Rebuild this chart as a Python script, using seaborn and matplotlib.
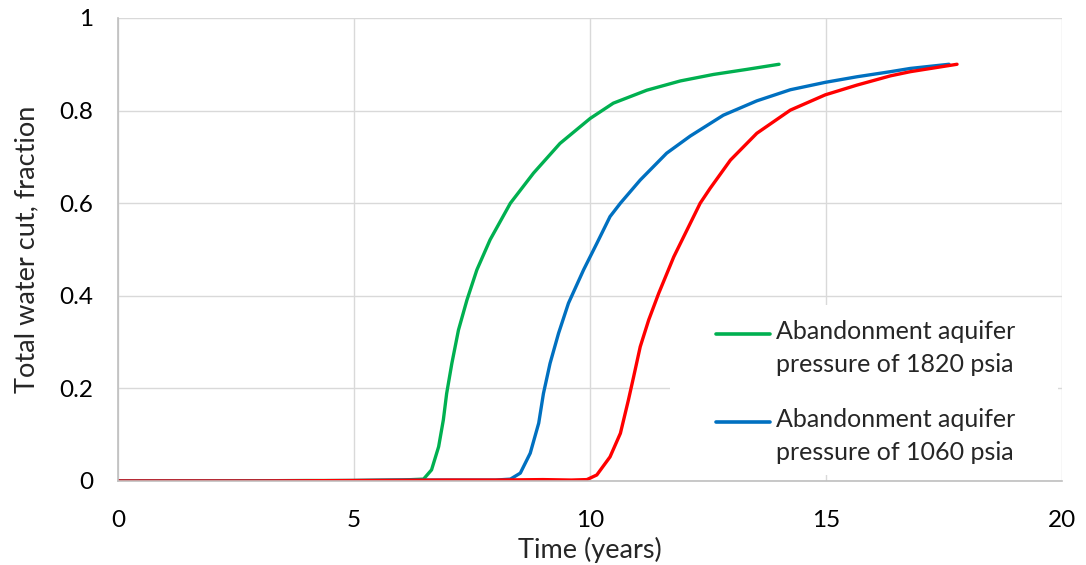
import matplotlib
matplotlib.use("Agg")
import matplotlib.pyplot as plt
from matplotlib.patches import Rectangle
from matplotlib.legend_handler import HandlerLine2D
import numpy as np
import seaborn as sns

# Data
t_green = [0, 2, 4, 5, 6, 6.47, 6.64, 6.79, 6.89, 6.96, 7.07, 7.21, 7.39, 7.60, 7.88, 8.31,
           8.80, 9.36, 10.0, 10.49, 11.2, 11.91, 12.61, 13.32, 14.0]
wc_green = [0, 0, 0.001, 0.001, 0.002, 0.004, 0.024, 0.074, 0.132, 0.189, 0.254, 0.326, 0.391, 0.456, 0.521, 0.60,
            0.665, 0.729, 0.783, 0.816, 0.844, 0.864, 0.878, 0.889, 0.90]

t_blue = [0, 3, 5, 6, 7, 8.0, 8.31, 8.52, 8.73, 8.91, 9.01, 9.15, 9.33, 9.54, 9.86, 10.14, 10.42, 10.64,
          11.06, 11.62, 12.12, 12.82, 13.53, 14.24, 14.98, 15.65, 16.36, 16.78, 17.6]
wc_blue = [0, 0, 0.001, 0.002, 0.002, 0.002, 0.004, 0.017, 0.06, 0.125, 0.189, 0.254, 0.319, 0.384, 0.456, 0.513, 0.571, 0.60,
           0.65, 0.708, 0.745, 0.79, 0.821, 0.845, 0.861, 0.873, 0.884, 0.891, 0.90]

t_red = [0, 3, 5, 7, 8, 9, 9.6, 9.93, 10.14, 10.42, 10.64, 10.81, 10.92, 11.06, 11.24, 11.45, 11.77, 12.05,
         12.33, 12.54, 12.97, 13.53, 14.24, 14.98, 15.65, 16.36, 16.78, 17.77]
wc_red = [0, 0, 0.001, 0.002, 0.002, 0.003, 0.002, 0.003, 0.013, 0.052, 0.103, 0.175, 0.225, 0.29, 0.348, 0.405, 0.484, 0.542,
          0.60, 0.632, 0.693, 0.751, 0.801, 0.834, 0.855, 0.875, 0.884, 0.90]

label_green = "Abandonment aquifer\npressure of 1820 psia"
label_blue = "Abandonment aquifer\npressure of 1060 psia"

x_ticks = [0, 5, 10, 15, 20]
y_ticks = [0, 0.2, 0.4, 0.6, 0.8, 1.0]
y_ticklabels = ["0", "0.2", "0.4", "0.6", "0.8", "1"]

sns.set_style("white")
plt.rcParams["font.family"] = ["Lato", "DejaVu Sans"]

fig = plt.figure(figsize=(10.86, 5.65), dpi=100)
ax = fig.add_axes([0.1087, 0.1487, 0.8695, 0.8195])

lw = 2.4
sns.lineplot(x=t_green, y=wc_green, ax=ax, color="#00b050", linewidth=lw, sort=False, label=label_green)
sns.lineplot(x=t_blue, y=wc_blue, ax=ax, color="#0070c0", linewidth=lw, sort=False, label=label_blue)
sns.lineplot(x=t_red, y=wc_red, ax=ax, color="#ff0000", linewidth=lw, sort=False, label="_nolegend_")
for ln in ax.get_lines():
    ln.set_solid_capstyle("round")
    ln.set_solid_joinstyle("round")

ax.set_xlim(0, 20)
ax.set_ylim(0, 1)
ax.set_xticks(x_ticks)
ax.set_xticklabels([str(v) for v in x_ticks])
ax.set_yticks(y_ticks)
ax.set_yticklabels(y_ticklabels)
ax.tick_params(axis="both", length=0, labelsize=17.5, colors="#000000")
ax.tick_params(axis="x", pad=21)
ax.tick_params(axis="y", pad=18)
ax.grid(True, color="#d9d9d9", linewidth=1.0)
ax.set_axisbelow(True)
for s in ["top", "right"]:
    ax.spines[s].set_visible(False)
for s in ["left", "bottom"]:
    ax.spines[s].set_color("#bfbfbf")
    ax.spines[s].set_linewidth(1.2)

ax.set_xlabel("Time (years)", fontsize=19.5, labelpad=4)
ax.set_ylabel("Total water cut, fraction", fontsize=19.5, labelpad=14)

# white legend background block (covers gridlines)
W, H = 1086.0, 565.0
bg = Rectangle((670 / W, (H - 475) / H), (1058 - 670) / W, (475 - 305) / H,
               transform=fig.transFigure, facecolor="white", edgecolor="none", zorder=1.5)
ax.add_patch(bg)


class UpHandler(HandlerLine2D):
    def create_artists(self, legend, orig_handle, xdescent, ydescent, width, height, fontsize, trans):
        arts = super().create_artists(legend, orig_handle, xdescent, ydescent, width, height, fontsize, trans)
        for a in arts:
            a.set_ydata(np.asarray(a.get_ydata()) + 0.6 * fontsize)
        return arts


h, l = ax.get_legend_handles_labels()
leg = ax.legend(h, l, loc="upper left", bbox_to_anchor=(716 / W, (H - 320) / H),
                bbox_transform=fig.transFigure, frameon=False, fontsize=18,
                handlelength=2.15, handletextpad=0.25, labelspacing=1.25, borderpad=0.0,
                borderaxespad=0.0, handler_map={l_: UpHandler() for l_ in h})
for t in leg.get_texts():
    t.set_linespacing(1.55)
for line in leg.get_lines():
    line.set_linewidth(2.6)

fig.savefig("out.png", dpi=100)
